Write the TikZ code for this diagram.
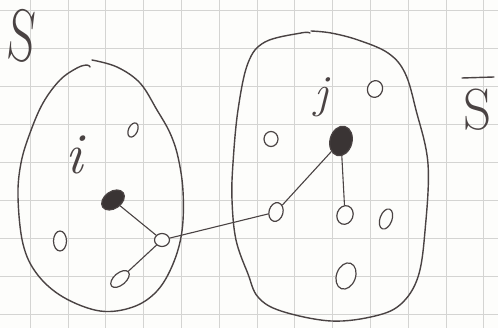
\documentclass[tikz,border=0pt]{standalone}
\usetikzlibrary{shapes.geometric}
\definecolor{pencil}{HTML}{4A4343}
\definecolor{gridc}{HTML}{D4D4D2}
\definecolor{paper}{HTML}{FDFDFB}
\definecolor{lead}{HTML}{3A3434}
\begin{document}
\begin{tikzpicture}[x=1pt,y=-1pt,
  outline/.style={draw=pencil,line width=1.4pt,line cap=round,line join=round},
  edge/.style={draw=pencil,line width=1.1pt,line cap=round},
  vtx/.style={ellipse,draw=pencil,line width=1.2pt,inner sep=0pt,fill=paper},
  hub/.style={ellipse,draw=pencil,line width=1.2pt,inner sep=0pt,fill=lead},
  lab/.style={text=pencil,inner sep=0pt}]
\fill[paper] (0,0) rectangle (498,328);
\useasboundingbox (0,0) rectangle (498,328);
% grid
\foreach \gx in {30,67.8,105.6,143.4,181.2,219,256.8,294.6,332.4,370.2,408,445.8,483.6}
  \draw[gridc,line width=0.6pt] (\gx,0) -- (\gx,328);
\foreach \gy in {10,48,86,124,162,200,238,276,314}
  \draw[gridc,line width=0.6pt] (0,\gy) -- (498,\gy);
% set S
\draw[outline] plot[smooth,tension=0.6] coordinates {(92,60) (117,67) (140,83) (157,110) (170,133) (178,157) (183,191) (182,231) (173,264) (157,291) (133,307) (100,311) (63,297) (37,274) (23,244) (18,197) (21,163) (30,133) (43,103) (60,80) (77,68) (87,65) (90,67)};
% set S-bar
\draw[outline] plot[smooth,tension=0.6] coordinates {(311,31) (331,33) (358,40) (388,53) (405,73) (416,110) (428,164) (425,231) (418,277) (401,304) (375,316) (331,321) (281,311) (258,297) (248,274) (236,240) (232,200) (233,163) (238,110) (248,63) (265,42) (301,33) (310,33)};
% labels
\node[lab,font=\fontsize{74}{74}\selectfont,xscale=0.7,rotate=-10] (sS) at (23,36) {S};
\node[lab,font=\fontsize{58}{58}\selectfont,xscale=0.95] (sSbar) at (478,110) {S};
\draw[outline] (462,78) -- (494,77);
\node[lab,font=\fontsize{58}{58}\selectfont\itshape] (li) at (74,155) {i};
\node[lab,font=\fontsize{46}{46}\selectfont\itshape] (lj) at (321,97) {j};
% vertices in S
\node[vtx,minimum width=9pt,minimum height=15pt,rotate=-25] (a1) at (133,130) {};
\node[vtx,minimum width=13pt,minimum height=20pt] (a2) at (60,241) {};
\node[vtx,minimum width=22pt,minimum height=12pt,rotate=40] (a3) at (120,279) {};
\node[vtx,minimum width=15pt,minimum height=13pt] (a4) at (162,240) {};
\node[hub,minimum width=25pt,minimum height=17pt,rotate=35] (hi) at (113,200) {};
% vertices in S-bar
\node[vtx,minimum width=14pt,minimum height=15pt] (b1) at (271,139) {};
\node[vtx,minimum width=15pt,minimum height=17pt,rotate=-20] (b2) at (375,89) {};
\node[hub,minimum width=22pt,minimum height=30pt,rotate=-15] (hj) at (341,141) {};
\node[vtx,minimum width=14pt,minimum height=19pt,rotate=-15] (b3) at (276,212) {};
\node[vtx,minimum width=16pt,minimum height=19pt,rotate=-20] (b4) at (345,215) {};
\node[vtx,minimum width=12pt,minimum height=21pt,rotate=-20] (b5) at (386,219) {};
\node[vtx,minimum width=19pt,minimum height=27pt,rotate=-20] (b6) at (346,276) {};
% edges
\draw[edge] (hi) -- (a4);
\draw[edge] (a4) -- (a3);
\draw[edge] (a4) -- (b3);
\draw[edge] (b3) -- (hj);
\draw[edge] (hj) -- (b4);
\end{tikzpicture}
\end{document}
